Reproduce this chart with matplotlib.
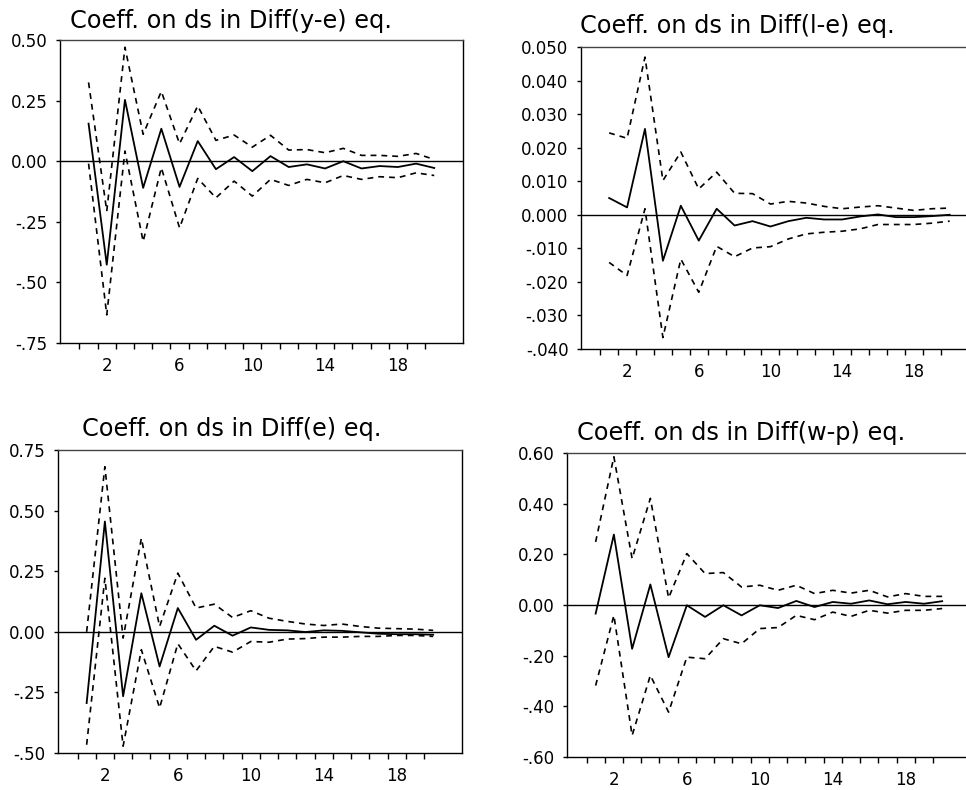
import numpy as np
import matplotlib
matplotlib.use("Agg")
import matplotlib.pyplot as plt
from matplotlib import font_manager as fm

# ---------------- data ----------------
horizon = list(range(1, 21))

# Panel 1: Coeff. on ds in Diff(y-e) eq.
ye_est = [0.155, -0.427, 0.253, -0.110, 0.134, -0.106, 0.083, -0.033, 0.017, -0.041,
          0.021, -0.024, -0.013, -0.030, 0.000, -0.030, -0.020, -0.024, -0.010, -0.028]
ye_up = [0.325, -0.206, 0.470, 0.111, 0.288, 0.072, 0.228, 0.086, 0.108, 0.058,
         0.107, 0.046, 0.048, 0.035, 0.053, 0.024, 0.024, 0.020, 0.032, 0.007]
ye_lo = [-0.010, -0.634, 0.042, -0.331, -0.027, -0.275, -0.071, -0.151, -0.082, -0.144,
         -0.075, -0.100, -0.075, -0.089, -0.059, -0.075, -0.064, -0.068, -0.048, -0.059]

# Panel 2: Coeff. on ds in Diff(l-e) eq.
le_est = [0.0050, 0.0022, 0.0256, -0.0137, 0.0027, -0.0077, 0.0018, -0.0032, -0.0019, -0.0035,
          -0.0019, -0.0009, -0.0014, -0.0014, -0.0005, 0.0001, -0.0007, -0.0007, -0.0004, 0.0000]
le_up = [0.0244, 0.0228, 0.0470, 0.0102, 0.0187, 0.0077, 0.0127, 0.0064, 0.0063, 0.0032,
         0.0040, 0.0035, 0.0025, 0.0018, 0.0023, 0.0027, 0.0020, 0.0013, 0.0018, 0.0020]
le_lo = [-0.0142, -0.0181, 0.0018, -0.0366, -0.0132, -0.0231, -0.0094, -0.0125, -0.0099, -0.0095,
         -0.0072, -0.0057, -0.0052, -0.0049, -0.0042, -0.0029, -0.0029, -0.0029, -0.0025, -0.0019]

# Panel 3: Coeff. on ds in Diff(e) eq.
e_est = [-0.294, 0.455, -0.266, 0.159, -0.143, 0.098, -0.033, 0.025, -0.016, 0.018,
         0.008, 0.006, -0.001, 0.006, 0.004, -0.002, -0.008, -0.010, -0.010, -0.012]
e_up = [0.000, 0.681, -0.026, 0.386, 0.022, 0.242, 0.098, 0.114, 0.059, 0.087,
        0.056, 0.043, 0.032, 0.026, 0.032, 0.022, 0.015, 0.013, 0.011, 0.006]
e_lo = [-0.466, 0.221, -0.472, -0.074, -0.314, -0.049, -0.161, -0.060, -0.084, -0.040,
        -0.043, -0.030, -0.028, -0.022, -0.022, -0.019, -0.019, -0.015, -0.015, -0.019]

# Panel 4: Coeff. on ds in Diff(w-p) eq.
wp_est = [-0.034, 0.278, -0.173, 0.081, -0.206, -0.001, -0.047, -0.001, -0.041, -0.001,
          -0.012, 0.016, -0.008, 0.012, 0.005, 0.018, 0.003, 0.012, 0.005, 0.015]
wp_up = [0.249, 0.585, 0.183, 0.421, 0.028, 0.203, 0.124, 0.128, 0.071, 0.078,
         0.058, 0.078, 0.045, 0.058, 0.047, 0.058, 0.032, 0.045, 0.034, 0.034]
wp_lo = [-0.318, -0.041, -0.515, -0.278, -0.423, -0.206, -0.212, -0.133, -0.153, -0.093,
         -0.089, -0.041, -0.058, -0.028, -0.045, -0.021, -0.032, -0.021, -0.021, -0.014]

titles = ["Coeff. on ds in Diff(y-e) eq.", "Coeff. on ds in Diff(l-e) eq.",
          "Coeff. on ds in Diff(e) eq.", "Coeff. on ds in Diff(w-p) eq."]

x_labels = ["2", "6", "10", "14", "18"]
x_label_pos = [2, 6, 10, 14, 18]

yt1 = [0.50, 0.25, 0.00, -0.25, -0.50, -0.75]
yl1 = ["0.50", "0.25", "0.00", "-.25", "-.50", "-.75"]
yt2 = [0.05, 0.04, 0.03, 0.02, 0.01, 0.0, -0.01, -0.02, -0.03, -0.04]
yl2 = ["0.050", "0.040", "0.030", "0.020", "0.010", "0.000", "-.010", "-.020", "-.030", "-.040"]
yt3 = [0.75, 0.50, 0.25, 0.00, -0.25, -0.50]
yl3 = ["0.75", "0.50", "0.25", "0.00", "-.25", "-.50"]
yt4 = [0.60, 0.40, 0.20, 0.00, -0.20, -0.40, -0.60]
yl4 = ["0.60", "0.40", "0.20", "0.00", "-.20", "-.40", "-.60"]

# ---------------- style ----------------
avail = {f.name for f in fm.fontManager.ttflist}
title_font = "Liberation Sans Narrow" if "Liberation Sans Narrow" in avail else "DejaVu Sans"
title_size = 19 if title_font == "Liberation Sans Narrow" else 17.3
tick_font = "DejaVu Sans"

W, H = 966, 790
fig = plt.figure(figsize=(W / 100, H / 100), dpi=100)


def px_axes(left, top, right, bottom):
    return fig.add_axes([left / W, 1 - bottom / H, (right - left) / W, (bottom - top) / H])


panels = [
    dict(box=(60, 40, 463, 343), est=ye_est, up=ye_up, lo=ye_lo, yt=yt1, yl=yl1,
         ylim=(-0.75, 0.50), title=titles[0], tpos=(70, 21)),
    dict(box=(581, 47, 978, 349), est=le_est, up=le_up, lo=le_lo, yt=yt2, yl=yl2,
         ylim=(-0.04, 0.05), title=titles[1], tpos=(580, 26)),
    dict(box=(58, 450, 462, 753), est=e_est, up=e_up, lo=e_lo, yt=yt3, yl=yl3,
         ylim=(-0.50, 0.75), title=titles[2], tpos=(82, 429)),
    dict(box=(567, 453, 971, 757), est=wp_est, up=wp_up, lo=wp_lo, yt=yt4, yl=yl4,
         ylim=(-0.60, 0.60), title=titles[3], tpos=(577, 433)),
]

for p in panels:
    ax = px_axes(*p["box"])
    ax.set_xlim(-0.57, 21.58)
    ax.set_ylim(*p["ylim"])
    ax.axhline(0, color="black", lw=1.0, zorder=1)
    ax.plot(horizon, p["est"], color="black", lw=1.3, zorder=3)
    ax.plot(horizon, p["up"], color="black", lw=1.2, ls=(0, (3.5, 3.0)), zorder=2)
    ax.plot(horizon, p["lo"], color="black", lw=1.2, ls=(0, (3.5, 3.0)), zorder=2)

    ax.set_xticks(x_label_pos)
    ax.set_xticklabels(x_labels, fontfamily=tick_font, fontsize=12)
    ax.set_xticks(np.arange(0.5, 20.0, 1.0), minor=True)
    ax.tick_params(axis="x", which="major", length=0, pad=10)
    ax.tick_params(axis="x", which="minor", length=4, width=1, direction="out")
    ax.set_yticks(p["yt"])
    ax.set_yticklabels(p["yl"], fontfamily=tick_font, fontsize=12)
    ax.tick_params(axis="y", which="major", length=3, width=1, direction="out", pad=6)

    for side in ["left", "bottom", "right"]:
        ax.spines[side].set_color("black")
        ax.spines[side].set_linewidth(1.0)
    ax.spines["top"].set_color("#444444")
    ax.spines["top"].set_linewidth(1.0)

    fig.text(p["tpos"][0] / W, 1 - p["tpos"][1] / H, p["title"], fontfamily=title_font,
             fontsize=title_size, ha="left", va="center")

fig.savefig("out.png", dpi=100)
